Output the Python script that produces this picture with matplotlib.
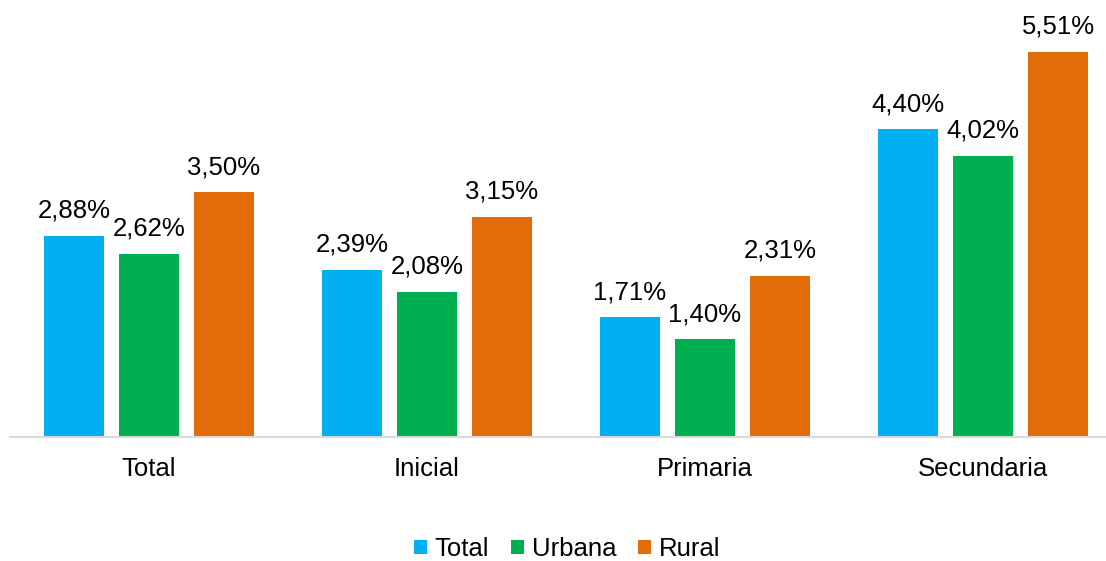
import matplotlib
matplotlib.use("Agg")
import matplotlib.pyplot as plt
import numpy as np
from matplotlib.patches import Patch

plt.rcParams['font.family'] = ['Liberation Sans', 'DejaVu Sans']

categories = ["Total", "Inicial", "Primaria", "Secundaria"]
series_names = ["Total", "Urbana", "Rural"]
total_vals = [2.88, 2.39, 1.71, 4.40]
urbana_vals = [2.62, 2.08, 1.40, 4.02]
rural_vals = [3.50, 3.15, 2.31, 5.51]
colors = ["#00B0F0", "#00B050", "#E36C0A"]

FS = 18.5

fig = plt.figure(figsize=(11.06, 5.61), dpi=100)
ax = fig.add_axes([10/1106, 124/561, 1112/1106, 437/561])

x = np.arange(len(categories))
width = 60/278
step = 75/278
series = [total_vals, urbana_vals, rural_vals]
for i, (vals, c, name) in enumerate(zip(series, colors, series_names)):
    pos = x + (i - 1) * step
    ax.bar(pos, vals, width=width, color=c, label=name)
    for xp, v in zip(pos, vals):
        ax.annotate(f"{v:.2f}%".replace(".", ","), xy=(xp, v), xytext=(0, 13),
                    textcoords="offset points", ha="center", va="baseline",
                    fontsize=FS, color="#000000")

ax.set_xlim(-0.5, 3.5)
ax.set_ylim(0, 437/69.9)
ax.set_xticks(x)
ax.set_xticklabels(categories, fontsize=FS)
ax.tick_params(axis='x', length=0, pad=14.5)
ax.set_yticks([])
for s in ["top", "right", "left"]:
    ax.spines[s].set_visible(False)
ax.spines["bottom"].set_color("#D9D9D9")
ax.spines["bottom"].set_linewidth(1.5)

handles = [Patch(facecolor=c, edgecolor='none') for c in colors]
fig.legend(handles, series_names, loc="center", bbox_to_anchor=(567/1106, 1 - 549/561),
           ncol=3, frameon=False, fontsize=FS, handlelength=0.5, handleheight=0.5,
           handletextpad=0.3, columnspacing=0.85, borderpad=0.1)

fig.savefig("out.png", dpi=100)
